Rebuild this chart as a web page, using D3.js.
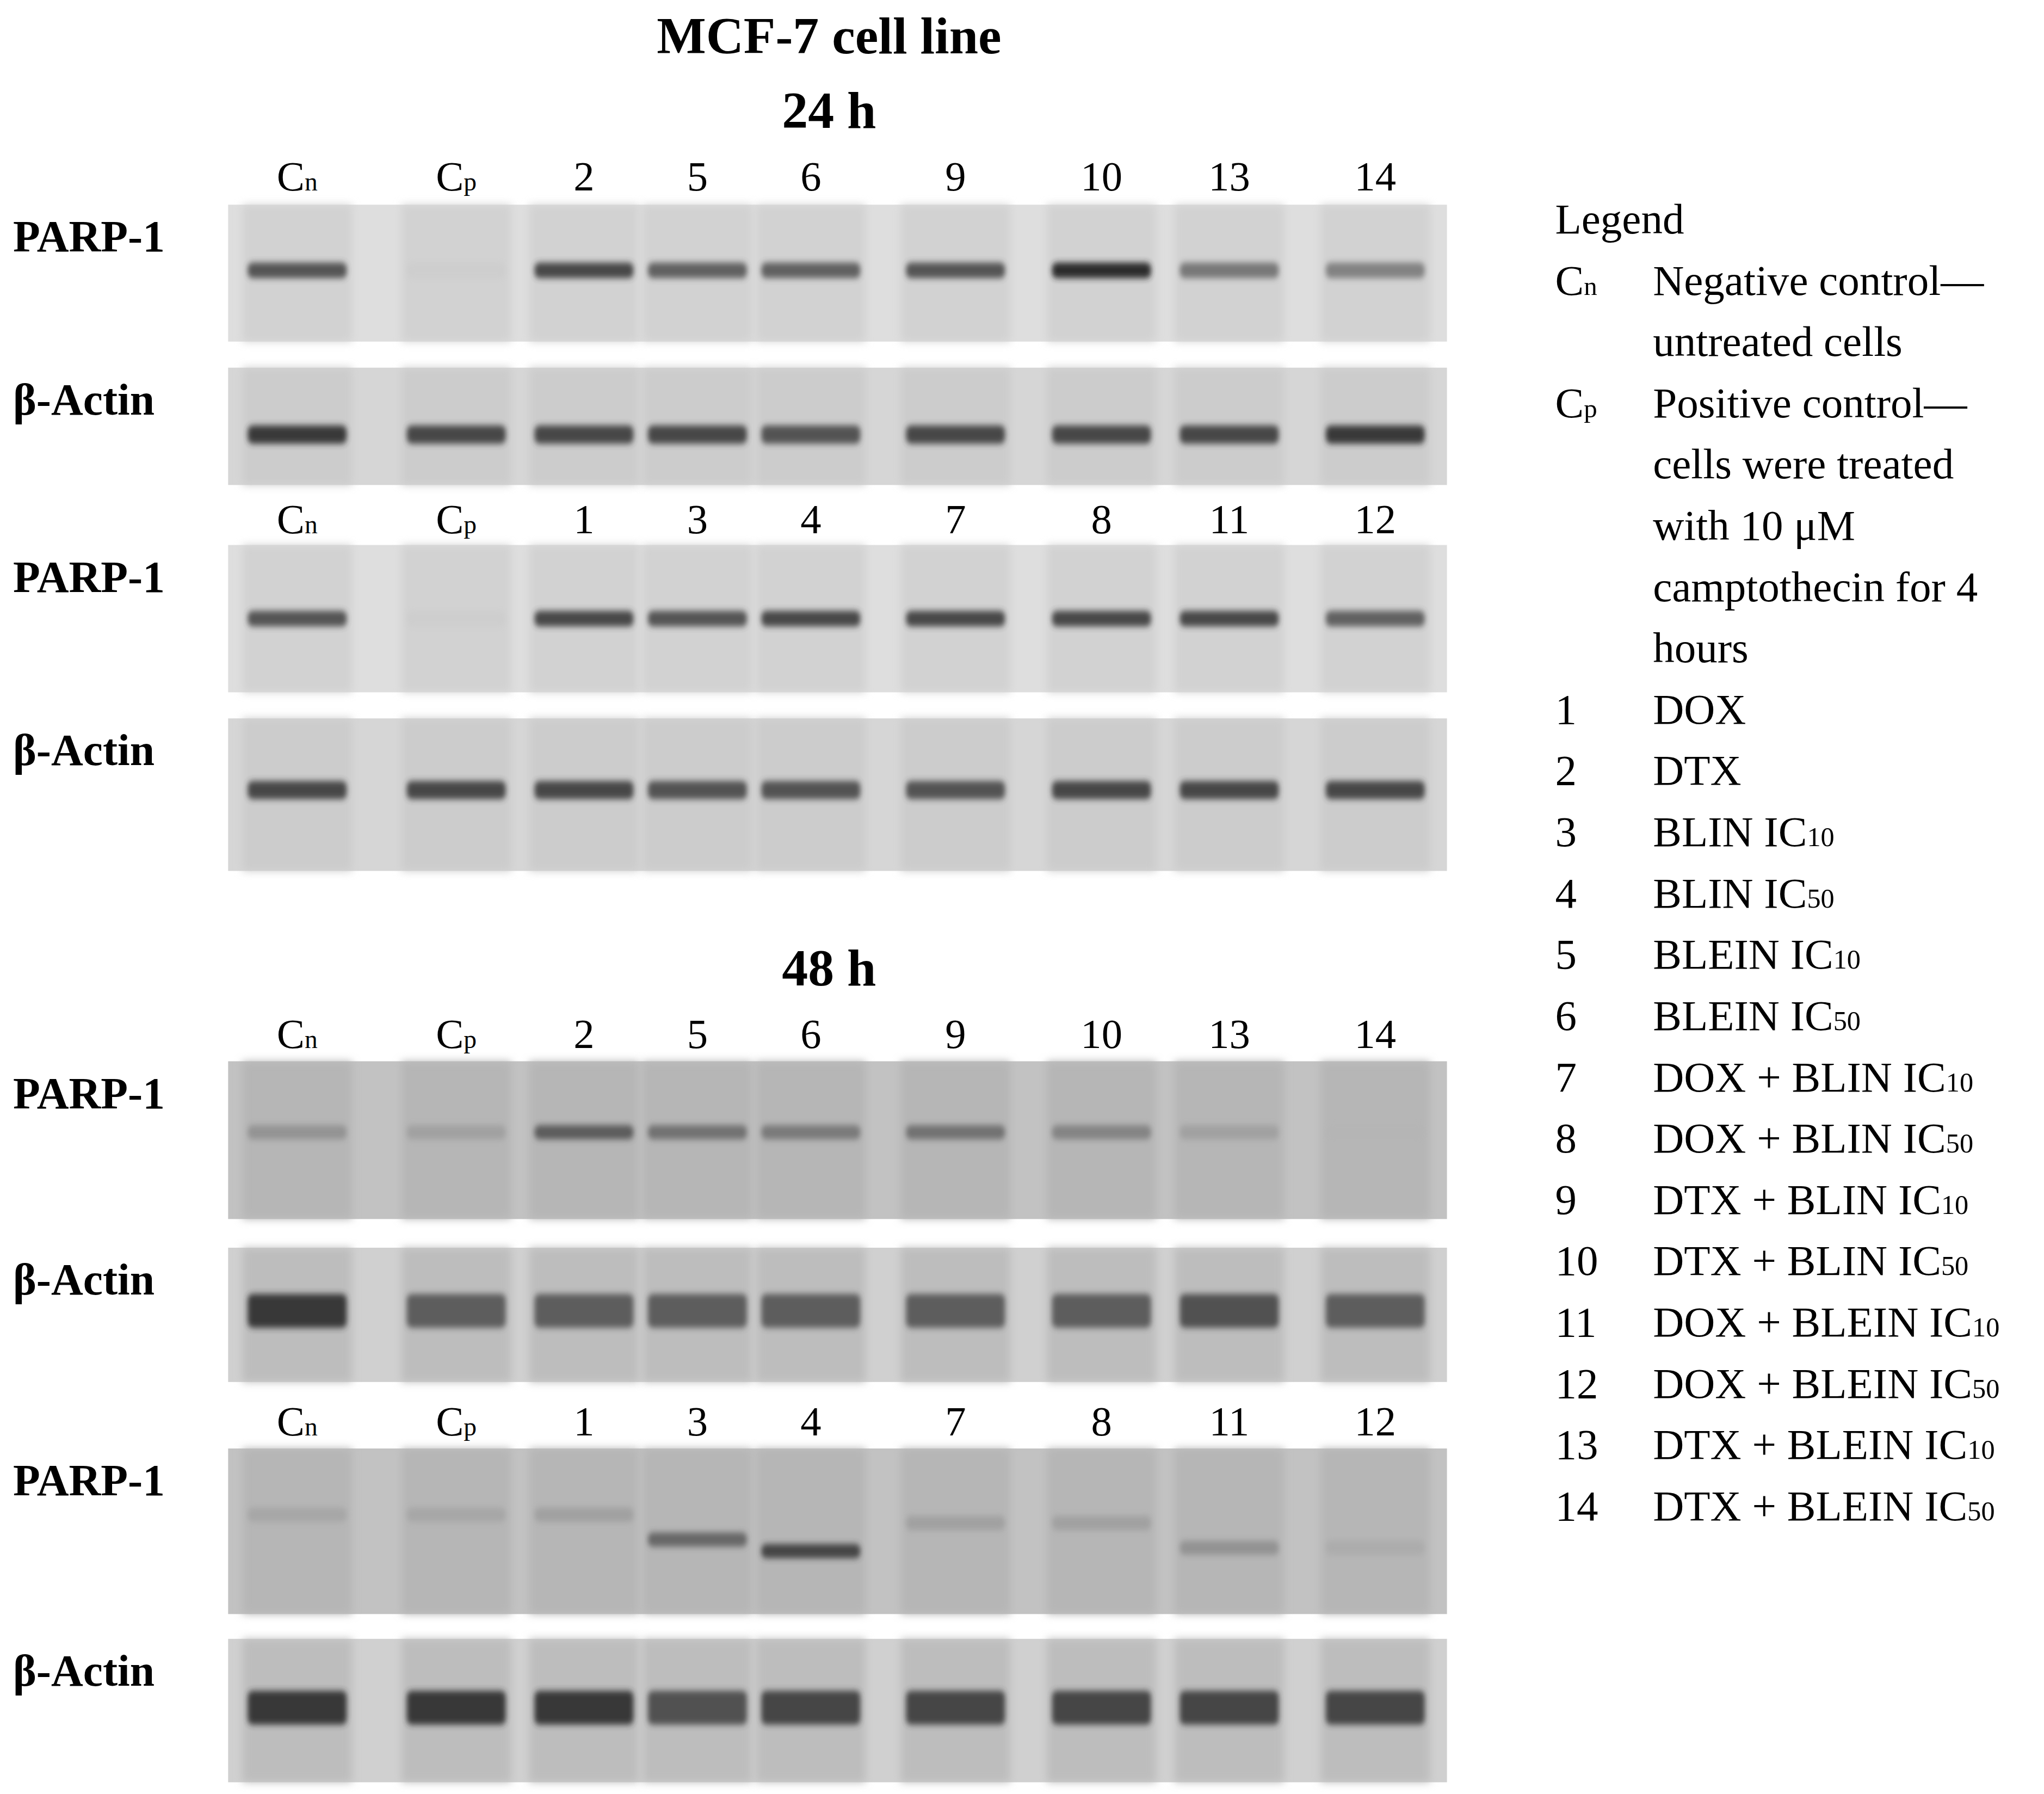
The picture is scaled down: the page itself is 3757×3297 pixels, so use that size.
<!DOCTYPE html>
<html><head><meta charset="utf-8">
<script src="https://cdn.jsdelivr.net/npm/d3@7"></script>
<style>body{margin:0;background:#fff}</style>
</head><body>
<svg id="fig"></svg>
<script>
// lane labels for the two lane orders
var lanesA = ["Cn", "Cp", "2", "5", "6", "9", "10", "13", "14"];
var lanesB = ["Cn", "Cp", "1", "3", "4", "7", "8", "11", "12"];
var laneCenters = [228, 350, 448, 535, 622, 733, 845, 943, 1055];

// band intensity (0..1) per lane
var parp24a = [0.8, 0.05, 0.85, 0.75, 0.75, 0.8, 0.95, 0.65, 0.6];
var actin24a = [0.9, 0.85, 0.85, 0.85, 0.8, 0.85, 0.85, 0.85, 0.9];
var parp24b = [0.8, 0.05, 0.85, 0.8, 0.85, 0.85, 0.85, 0.85, 0.75];
var actin24b = [0.85, 0.85, 0.85, 0.8, 0.8, 0.8, 0.85, 0.85, 0.85];
var parp48a = [0.45, 0.35, 0.75, 0.65, 0.6, 0.65, 0.55, 0.35, 0.15];
var actin48a = [0.9, 0.75, 0.75, 0.75, 0.75, 0.75, 0.75, 0.8, 0.75];
var parp48b = [0.3, 0.3, 0.35, 0.7, 0.85, 0.35, 0.35, 0.45, 0.25];
var actin48b = [0.9, 0.9, 0.9, 0.8, 0.85, 0.85, 0.85, 0.85, 0.85];
// band position within panel (fraction of height)
var bandPos48b = [0.4, 0.4, 0.4, 0.55, 0.62, 0.45, 0.45, 0.6, 0.6];

var legendCodes = ["Cn", "", "Cp", "", "", "", "", "1", "2", "3", "4", "5", "6", "7", "8", "9", "10", "11", "12", "13", "14"];
var legendTexts = ["Negative control\u2014", "untreated cells", "Positive control\u2014", "cells were treated",
  "with 10 \u03bcM", "camptothecin for 4", "hours", "DOX", "DTX", "BLIN IC|10", "BLIN IC|50", "BLEIN IC|10",
  "BLEIN IC|50", "DOX + BLIN IC|10", "DOX + BLIN IC|50", "DTX + BLIN IC|10", "DTX + BLIN IC|50",
  "DOX + BLEIN IC|10", "DOX + BLEIN IC|50", "DTX + BLEIN IC|10", "DTX + BLEIN IC|50"];

var W = 1568, H = 1376;
var serif = "'Liberation Serif', 'DejaVu Serif', serif";
var svg = d3.select("#fig").attr("width", 3757).attr("height", 3297)
  .attr("viewBox", "0 0 " + W + " " + H);
svg.append("rect").attr("width", W).attr("height", H).attr("fill", "#fff");

var defs = svg.append("defs");
defs.append("filter").attr("id", "blur").attr("x", "-20%").attr("y", "-100%")
  .attr("width", "140%").attr("height", "300%")
  .append("feGaussianBlur").attr("stdDeviation", "2 2.5");
defs.append("filter").attr("id", "soft").append("feGaussianBlur").attr("stdDeviation", 3);

var shade = d3.scaleLinear().domain([0, 1]).range(["#cfcfcf", "#1c1c1c"]);

function title(t, y) {
  svg.append("text").attr("x", 636).attr("y", y).attr("text-anchor", "middle")
    .attr("font-family", serif).attr("font-weight", "bold").attr("font-size", 40).text(t);
}
title("MCF-7 cell line", 41);
title("24 h", 98);
title("48 h", 756);

function codeText(sel, code, size) {
  if (code === "Cn" || code === "Cp") {
    sel.append("tspan").text("C");
    sel.append("tspan").attr("font-size", size * 0.62).text(code[1]);
  } else sel.text(code);
}

function laneLabels(labels, y) {
  labels.forEach(function (l, i) {
    var t = svg.append("text").attr("x", laneCenters[i]).attr("y", y).attr("text-anchor", "middle")
      .attr("font-family", serif).attr("font-size", 32);
    codeText(t, l, 32);
  });
}

function blot(name, y0, h, vals, pos, opts) {
  var g = svg.append("g");
  g.append("rect").attr("x", 175).attr("y", y0).attr("width", 935).attr("height", h)
    .attr("fill", opts.bg);
  // lanes slightly darker than gaps
  g.selectAll(".lane").data(vals).join("rect")
    .attr("x", function (d, i) { return laneCenters[i] - 42; })
    .attr("y", y0).attr("width", 84).attr("height", h)
    .attr("fill", opts.lane).attr("filter", "url(#soft)");
  g.selectAll(".band").data(vals).join("rect")
    .attr("x", function (d, i) { return laneCenters[i] - 38; })
    .attr("y", function (d, i) { return y0 + h * (Array.isArray(pos) ? pos[i] : pos) - opts.bh / 2; })
    .attr("width", 76).attr("height", opts.bh).attr("rx", 4)
    .attr("fill", function (d) { return shade(d); })
    .attr("opacity", function (d) { return 0.3 + 0.7 * d; })
    .attr("filter", "url(#blur)");
  svg.append("text").attr("x", 10).attr("y", y0 + 36).attr("font-family", serif)
    .attr("font-weight", "bold").attr("font-size", 34).text(name);
}

var light = { bg: "#dedede", lane: "#d2d2d2", bh: 12 };
var act = { bg: "#d6d6d6", lane: "#cccccc", bh: 14 };
var dark = { bg: "#c2c2c2", lane: "#b6b6b6", bh: 11 };
var dact = { bg: "#d0d0d0", lane: "#bdbdbd", bh: 26 };

laneLabels(lanesA, 146);
blot("PARP-1", 157, 105, parp24a, 0.48, light);
blot("\u03b2-Actin", 282, 90, actin24a, 0.57, act);
laneLabels(lanesB, 409);
blot("PARP-1", 418, 113, parp24b, 0.5, light);
blot("\u03b2-Actin", 551, 117, actin24b, 0.47, act);
laneLabels(lanesA, 804);
blot("PARP-1", 814, 121, parp48a, 0.45, dark);
blot("\u03b2-Actin", 957, 103, actin48a, 0.47, dact);
laneLabels(lanesB, 1101);
blot("PARP-1", 1111, 127, parp48b, bandPos48b, dark);
blot("\u03b2-Actin", 1257, 110, actin48b, 0.48, dact);

// legend
var lg = svg.append("g").attr("font-family", serif).attr("font-size", 33);
lg.append("text").attr("x", 1193).attr("y", 179).text("Legend");
legendTexts.forEach(function (t, i) {
  var y = 226 + i * 47;
  var c = lg.append("text").attr("x", 1193).attr("y", y);
  codeText(c, legendCodes[i], 33);
  var tt = lg.append("text").attr("x", 1268).attr("y", y);
  var parts = t.split("|");
  tt.append("tspan").text(parts[0]);
  if (parts[1]) tt.append("tspan").attr("font-size", 21).text(parts[1]);
});
</script>
</body></html>
